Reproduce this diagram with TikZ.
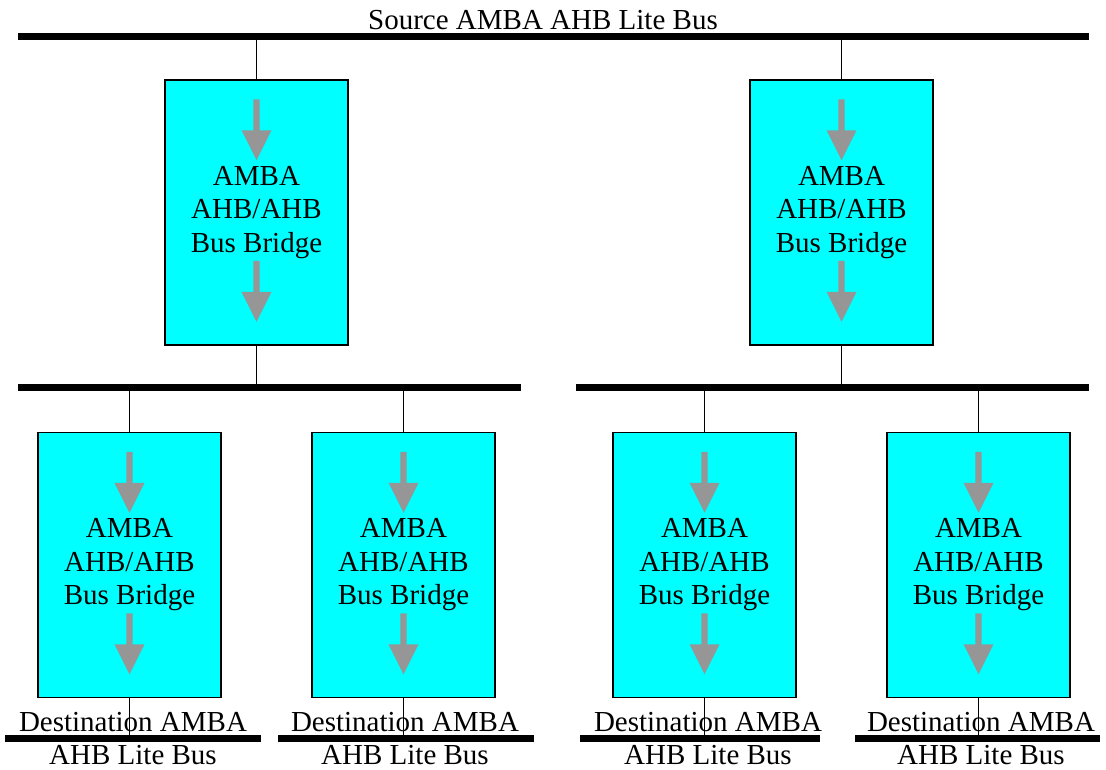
\documentclass[tikz,border=0pt]{standalone}
\usepackage{fontspec}
\setmainfont{Liberation Serif}
\newfontfamily\tnr{Liberation Serif}
\definecolor{arrowgray}{RGB}{150,150,150}
\definecolor{boxcyan}{RGB}{0,255,255}
\begin{document}
\begin{tikzpicture}[x=1pt,y=-1pt,
  bridge/.style={draw=black, line width=1.5pt, fill=boxcyan, minimum width=183pt, minimum height=265pt, inner sep=0pt, align=center, font=\tnr\fontsize{29}{33.5}\selectfont},
  bus/.style={line width=7pt},
  link/.style={line width=1.4pt},
  lbl/.style={font=\tnr\fontsize{29}{33}\selectfont, inner sep=0pt, align=center},
  downarrow/.pic={\fill[arrowgray] (-3.2,0) -- (-3.2,31) -- (-15,31) -- (0,61) -- (15,31) -- (3.2,31) -- (3.2,0) -- cycle;}]
\useasboundingbox (0,0) rectangle (1106,769);

% buses
\coordinate (tbL) at (18,36);   \coordinate (tbR) at (1089,36);
\coordinate (mlL) at (18,387);  \coordinate (mlR) at (521,387);
\coordinate (mrL) at (576,387); \coordinate (mrR) at (1089,387);
\coordinate (d1L) at (5,738);   \coordinate (d1R) at (261,738);
\coordinate (d2L) at (278,738); \coordinate (d2R) at (534,738);
\coordinate (d3L) at (580,738); \coordinate (d3R) at (820,738);
\coordinate (d4L) at (855,738); \coordinate (d4R) at (1100,738);
\foreach \a/\b in {tbL/tbR, mlL/mlR, mrL/mrR, d1L/d1R, d2L/d2R, d3L/d3R, d4L/d4R}
  \draw[bus] (\a) -- (\b);

\node[lbl] (src) at (543,20) {Source AMBA AHB Lite Bus};

% bridges
\node[bridge] (b1) at (256.5,212.5) {AMBA\\AHB/AHB\\Bus Bridge};
\node[bridge] (b2) at (841.5,212.5) {AMBA\\AHB/AHB\\Bus Bridge};
\node[bridge] (c1) at (129.5,565) {AMBA\\AHB/AHB\\Bus Bridge};
\node[bridge] (c2) at (403.5,565) {AMBA\\AHB/AHB\\Bus Bridge};
\node[bridge] (c3) at (704.5,565) {AMBA\\AHB/AHB\\Bus Bridge};
\node[bridge] (c4) at (978.5,565) {AMBA\\AHB/AHB\\Bus Bridge};

\foreach \n in {b1,b2,c1,c2,c3,c4} {
  \path (\n.north) ++(0,20) pic {downarrow};
  \path (\n.south) ++(0,-85) pic {downarrow};
}

% destination labels
\node[lbl] (l1) at (133,738.5) {Destination AMBA\\AHB Lite Bus};
\node[lbl] (l2) at (405,738.5) {Destination AMBA\\AHB Lite Bus};
\node[lbl] (l3) at (708,738.5) {Destination AMBA\\AHB Lite Bus};
\node[lbl] (l4) at (981,738.5) {Destination AMBA\\AHB Lite Bus};

% connectors
\draw[link] (b1.north |- tbL) -- (b1.north);
\draw[link] (b2.north |- tbL) -- (b2.north);
\draw[link] (b1.south) -- (b1.south |- mlL);
\draw[link] (b2.south) -- (b2.south |- mrL);
\draw[link] (c1.north |- mlL) -- (c1.north);
\draw[link] (c2.north |- mlL) -- (c2.north);
\draw[link] (c3.north |- mrL) -- (c3.north);
\draw[link] (c4.north |- mrL) -- (c4.north);
\draw[link] (c1.south) -- (c1.south |- d1L);
\draw[link] (c2.south) -- (c2.south |- d2L);
\draw[link] (c3.south) -- (c3.south |- d3L);
\draw[link] (c4.south) -- (c4.south |- d4L);
\end{tikzpicture}
\end{document}
